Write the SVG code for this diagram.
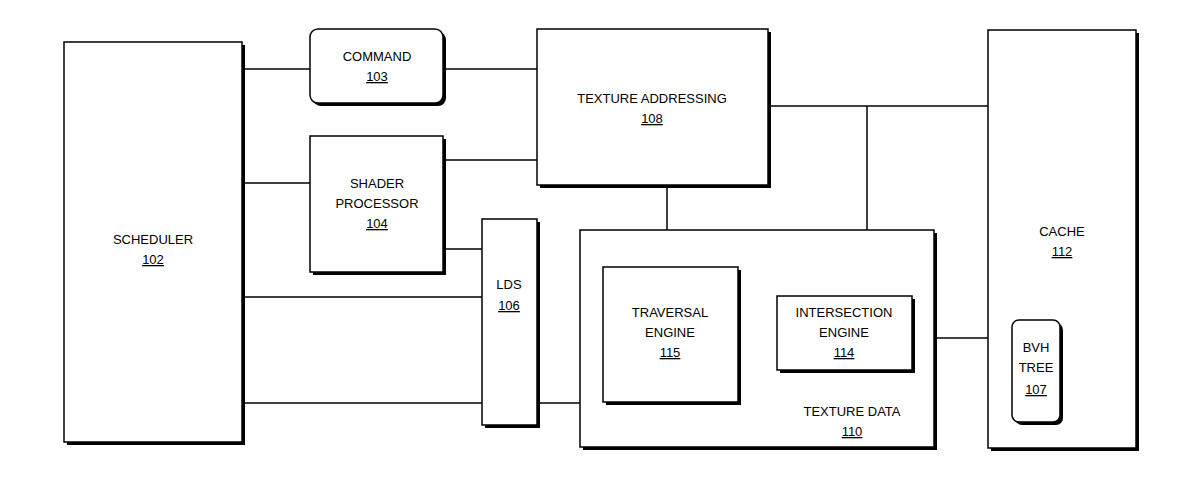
<svg xmlns="http://www.w3.org/2000/svg" width="1200" height="480" viewBox="0 0 1200 480">
<style>
.b{fill:#fff;stroke:#000;stroke-width:1.5}
.s{fill:#000}
.c{stroke:#000;stroke-width:1.5;fill:none}
text{font-family:"Liberation Sans",Arial,sans-serif;font-size:13px;text-anchor:middle;fill:#000}
.u{text-decoration:underline}
</style>
<rect width="1200" height="480" fill="#fff"/>
<g id="connectors" class="c">
<line x1="242" y1="69" x2="310" y2="69"/>
<line x1="443" y1="69" x2="537" y2="69"/>
<line x1="443" y1="160" x2="537" y2="160"/>
<line x1="242" y1="183" x2="310" y2="183"/>
<line x1="443" y1="249" x2="482" y2="249"/>
<line x1="242" y1="297" x2="482" y2="297"/>
<line x1="242" y1="403" x2="580" y2="403"/>
<line x1="667" y1="185" x2="667" y2="230"/>
<line x1="768" y1="106" x2="988" y2="106"/>
<line x1="867" y1="106" x2="867" y2="230"/>
<line x1="738" y1="333" x2="777" y2="333"/>
<line x1="937" y1="338" x2="988" y2="338"/>
</g>
<g id="scheduler"><rect class="s" x="67" y="45" width="178" height="400"/><rect class="b" x="64" y="42" width="178" height="400"/><text x="153" y="244">SCHEDULER</text><text x="153" y="264" class="u">102</text></g>
<g id="command"><rect class="s" x="313" y="32" width="133" height="74" rx="8"/><rect class="b" x="310" y="29" width="133" height="74" rx="8"/><text x="377" y="61">COMMAND</text><text x="377" y="81" class="u">103</text></g>
<g id="shader"><rect class="s" x="313" y="139" width="133" height="136"/><rect class="b" x="310" y="136" width="133" height="136"/><text x="377" y="188">SHADER</text><text x="377" y="208">PROCESSOR</text><text x="377" y="228" class="u">104</text></g>
<g id="lds"><rect class="s" x="485" y="222" width="55" height="206"/><rect class="b" x="482" y="219" width="55" height="206"/><text x="509" y="289">LDS</text><text x="509" y="310" class="u">106</text></g>
<g id="texaddr"><rect class="s" x="540" y="32" width="231" height="156"/><rect class="b" x="537" y="29" width="231" height="156"/><text x="652" y="103">TEXTURE ADDRESSING</text><text x="652" y="123" class="u">108</text></g>
<g id="texdata"><rect class="s" x="583" y="233" width="354" height="217"/><rect class="b" x="580" y="230" width="354" height="217"/><text x="852" y="416">TEXTURE DATA</text><text x="852" y="436" class="u">110</text></g>
<g id="traversal"><rect class="s" x="606" y="270" width="135" height="135"/><rect class="b" x="603" y="267" width="135" height="135"/><text x="670" y="317">TRAVERSAL</text><text x="670" y="337">ENGINE</text><text x="670" y="357" class="u">115</text></g>
<g id="intersection"><rect class="s" x="780" y="299" width="135" height="74"/><rect class="b" x="777" y="296" width="135" height="74"/><text x="844" y="317">INTERSECTION</text><text x="844" y="337">ENGINE</text><text x="844" y="357" class="u">114</text></g>
<g id="cache"><rect class="s" x="991" y="33" width="148" height="418"/><rect class="b" x="988" y="30" width="148" height="418"/><text x="1062" y="236">CACHE</text><text x="1062" y="256" class="u">112</text></g>
<g id="bvh"><rect class="s" x="1015" y="323" width="48" height="102" rx="7"/><rect class="b" x="1012" y="320" width="48" height="102" rx="7"/><text x="1036" y="352">BVH</text><text x="1036" y="372">TREE</text><text x="1036" y="394" class="u">107</text></g>
</svg>
